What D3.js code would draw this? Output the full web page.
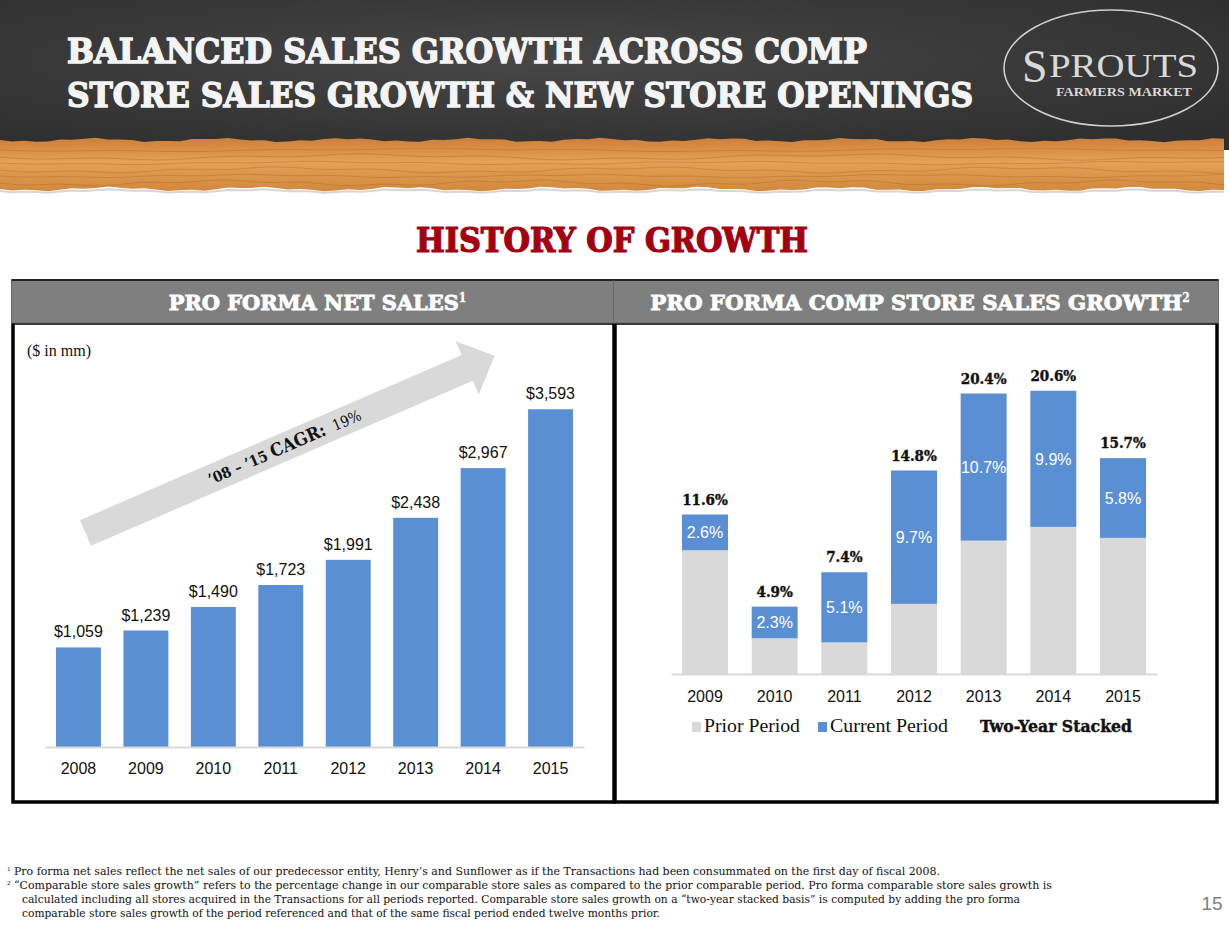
<!DOCTYPE html>
<html>
<head>
<meta charset="utf-8">
<script src="https://cdn.jsdelivr.net/npm/d3@7"></script>
<style>
  html, body { margin: 0; padding: 0; background: #fff; }
  svg { display: block; }
</style>
</head>
<body>
<div id="chart"></div>
<script>
// Net sales, $ in mm
const salesYears = ["2008", "2009", "2010", "2011", "2012", "2013", "2014", "2015"];
const netSales = [1059, 1239, 1490, 1723, 1991, 2438, 2967, 3593];

// Comp store sales growth, %
const compYears = ["2009", "2010", "2011", "2012", "2013", "2014", "2015"];
const priorPeriod = [9.0, 2.6, 2.3, 5.1, 9.7, 10.7, 9.9];
const currentPeriod = [2.6, 2.3, 5.1, 9.7, 10.7, 9.9, 5.8];
const twoYearStacked = [11.6, 4.9, 7.4, 14.8, 20.4, 20.6, 15.7];

const legendItems = ["Prior Period", "Current Period"];

const footnotes = [
  "Pro forma net sales reflect the net sales of our predecessor entity, Henry\u2019s and Sunflower as if the Transactions had been consummated on the first day of fiscal 2008.",
  "\u201cComparable store sales growth\u201d refers to the percentage change in our comparable store sales as compared to the prior comparable period. Pro forma comparable store sales growth is",
  "calculated including all stores acquired in the  Transactions for all periods reported. Comparable store sales growth on a \u201ctwo-year stacked basis\u201d is computed by adding the pro forma",
  "comparable store sales growth of the period referenced and that of the same fiscal period ended twelve months prior."
];

const W = 1229, H = 927;
const BLUE = "#5b8fd4", GREY = "#d9d9d9";
const SLAB = "'DejaVu Serif Condensed', 'DejaVu Serif', serif";
const SANS = "'Liberation Sans', Arial, sans-serif";
const SERIF = "'Liberation Serif', 'DejaVu Serif', serif";

const svg = d3.select("#chart").append("svg")
  .attr("width", W).attr("height", H)
  .attr("viewBox", `0 0 ${W} ${H}`);

const defs = svg.append("defs");

// chalkboard header
const board = defs.append("radialGradient").attr("id", "board")
  .attr("cx", "45%").attr("cy", "40%").attr("r", "70%");
board.append("stop").attr("offset", "0%").attr("stop-color", "#474747");
board.append("stop").attr("offset", "100%").attr("stop-color", "#2e2e2e");

const wood = defs.append("linearGradient").attr("id", "wood")
  .attr("x1", 0).attr("y1", 0).attr("x2", 0).attr("y2", 1);
wood.append("stop").attr("offset", "0%").attr("stop-color", "#cd7f38");
wood.append("stop").attr("offset", "45%").attr("stop-color", "#e5a158");
wood.append("stop").attr("offset", "100%").attr("stop-color", "#d2883c");

svg.append("rect").attr("x", 0).attr("y", 0).attr("width", W).attr("height", 150)
  .attr("fill", "url(#board)");

// ragged wood strip
const edge = (y0, amp, k) => d3.range(0, W + 1, 12).map(x => [x, y0 + amp * Math.sin(x * k) + amp * 0.5 * Math.sin(x * k * 3.7)]);
const topEdge = edge(140, 1.5, 0.05);
const botEdge = edge(189, 1.6, 0.043).reverse();
svg.append("path")
  .attr("d", d3.line()(topEdge.concat(botEdge)) + "Z")
  .attr("fill", "url(#wood)");
svg.append("path")
  .attr("d", d3.line()(edge(191, 1.2, 0.043)))
  .attr("fill", "none").attr("stroke", "#bbb").attr("stroke-width", 2).attr("opacity", 0.6);
[150, 157, 163, 170, 176, 183].forEach((y, i) => {
  svg.append("path")
    .attr("d", d3.line().curve(d3.curveBasis)(edge(y, 1.2 + i % 2, 0.011 + i * 0.002)))
    .attr("fill", "none").attr("stroke", "#9c5a22")
    .attr("stroke-width", 0.8).attr("opacity", 0.4);
});

// title
const titleLines = [
  { text: "BALANCED SALES GROWTH ACROSS COMP", y: 63, w: 800 },
  { text: "STORE SALES GROWTH & NEW STORE OPENINGS", y: 107, w: 906 }
];
svg.selectAll(".title").data(titleLines).join("text")
  .attr("class", "title")
  .attr("x", 67).attr("y", d => d.y)
  .attr("textLength", d => d.w).attr("lengthAdjust", "spacingAndGlyphs")
  .attr("font-family", SLAB).attr("font-weight", "bold").attr("font-size", 33)
  .attr("fill", "#f4f4f4").attr("stroke", "#f4f4f4").attr("stroke-width", 1.3)
  .text(d => d.text);

// logo
const logo = svg.append("g").attr("fill", "#d9d9d9");
logo.append("ellipse").attr("cx", 1111).attr("cy", 68).attr("rx", 107).attr("ry", 58)
  .attr("fill", "none").attr("stroke", "#cfcfcf").attr("stroke-width", 1.6);
logo.append("text").attr("x", 1022).attr("y", 82)
  .attr("font-family", SERIF).attr("font-size", 46).text("S");
logo.append("text").attr("x", 1049).attr("y", 77)
  .attr("font-family", SERIF).attr("font-size", 33)
  .attr("textLength", 149).attr("lengthAdjust", "spacingAndGlyphs").text("PROUTS");
logo.append("text").attr("x", 1124).attr("y", 96).attr("text-anchor", "middle")
  .attr("font-family", SERIF).attr("font-weight", "bold").attr("font-size", 12)
  .attr("textLength", 136).attr("lengthAdjust", "spacingAndGlyphs")
  .text("FARMERS MARKET");

// section title
svg.append("text").attr("x", 612).attr("y", 252).attr("text-anchor", "middle")
  .attr("font-family", SLAB).attr("font-weight", "bold").attr("font-size", 33)
  .attr("textLength", 392).attr("lengthAdjust", "spacingAndGlyphs")
  .attr("fill", "#a30012").attr("stroke", "#a30012").attr("stroke-width", 1.2)
  .text("HISTORY OF GROWTH");

// panels
const panels = [
  { x0: 13, x1: 614, title: "PRO FORMA NET SALES", sup: "1", tw: 290 },
  { x0: 615, x1: 1217, title: "PRO FORMA COMP STORE SALES GROWTH", sup: "2", tw: 532 }
];
panels.forEach(p => {
  svg.append("rect").attr("x", p.x0).attr("y", 323).attr("width", p.x1 - p.x0).attr("height", 479)
    .attr("fill", "#fff").attr("stroke", "#000").attr("stroke-width", 3.5);
  svg.append("rect").attr("x", p.x0 - 1.5).attr("y", 280).attr("width", p.x1 - p.x0 + 3).attr("height", 43)
    .attr("fill", "#7f7f7f").attr("stroke", "#6a6a6a").attr("stroke-width", 1);
  svg.append("line").attr("x1", p.x0 - 1.5).attr("x2", p.x1 + 1.5).attr("y1", 280).attr("y2", 280)
    .attr("stroke", "#222").attr("stroke-width", 2);
  const t = svg.append("text").attr("x", (p.x0 + p.x1) / 2 + 4).attr("y", 310).attr("text-anchor", "middle")
    .attr("font-family", SLAB).attr("font-weight", "bold").attr("fill", "#fff")
    .attr("stroke", "#fff").attr("stroke-width", 0.8);
  t.append("tspan").attr("font-size", 20).attr("textLength", p.tw).attr("lengthAdjust", "spacingAndGlyphs").text(p.title);
  t.append("tspan").attr("font-size", 12).attr("stroke-width", 0.3).attr("dy", -8).text(p.sup);
});

// ---------- left chart: net sales ----------
const xs = d3.scaleBand().domain(salesYears).range([45, 584]).paddingInner(0.334).paddingOuter(0.163);
const ys = d3.scaleLinear().domain([0, 4000]).range([747, 371]);

svg.append("text").attr("x", 27).attr("y", 356)
  .attr("font-family", SERIF).attr("font-size", 16).attr("fill", "#111")
  .text("($ in mm)");

// CAGR arrow
const arrowLen = 446;
const arrow = svg.append("g").attr("transform", "translate(85.5,533) rotate(-23.4)");
arrow.append("path")
  .attr("d", `M0,-14 L${arrowLen - 30},-14 L${arrowLen - 30},-29 L${arrowLen},0 L${arrowLen - 30},29 L${arrowLen - 30},14 L0,14 Z`)
  .attr("fill", GREY);
const cagr = arrow.append("text").attr("x", 217).attr("y", 0).attr("dy", "0.35em")
  .attr("text-anchor", "middle").attr("font-family", SLAB).attr("fill", "#111");
cagr.append("tspan").attr("font-weight", "bold").attr("font-size", 15).text("\u201908 \u2013 \u201915 ");
cagr.append("tspan").attr("font-weight", "bold").attr("font-size", 18).text("CAGR:");
cagr.append("tspan").attr("font-size", 15).text("\u00a0 19%");

const salesData = salesYears.map((yr, i) => ({ yr, v: netSales[i] }));
svg.append("g").selectAll("rect").data(salesData).join("rect")
  .attr("x", d => xs(d.yr)).attr("width", xs.bandwidth())
  .attr("y", d => ys(d.v)).attr("height", d => ys(0) - ys(d.v))
  .attr("fill", BLUE);
svg.append("g").selectAll("text").data(salesData).join("text")
  .attr("x", d => xs(d.yr) + xs.bandwidth() / 2).attr("y", d => ys(d.v) - 10)
  .attr("text-anchor", "middle").attr("font-family", SANS).attr("font-size", 16).attr("fill", "#111")
  .text(d => "$" + d3.format(",")(d.v));

const axL = svg.append("g").attr("transform", `translate(0,${ys(0)})`)
  .call(d3.axisBottom(xs).tickSize(0).tickPadding(15.5));
axL.select(".domain").attr("stroke", GREY).attr("stroke-width", 2);
axL.selectAll("text").attr("font-family", SANS).attr("font-size", 16).attr("fill", "#111");

// ---------- right chart: comp store sales growth ----------
const xc = d3.scaleBand().domain(compYears).range([671, 1157]).paddingInner(0.34).paddingOuter(0.158);
const yc = d3.scaleLinear().domain([0, 22]).range([674, 674 - 13.75 * 22]);

const compData = compYears.map((yr, i) => ({ yr, prior: priorPeriod[i], cur: currentPeriod[i], total: twoYearStacked[i] }));
const stack = d3.stack().keys(["prior", "cur"])(compData);
const colors = { prior: GREY, cur: BLUE };

svg.append("g").selectAll("g").data(stack).join("g")
  .attr("fill", s => colors[s.key])
  .selectAll("rect").data(s => s).join("rect")
  .attr("x", d => xc(d.data.yr)).attr("width", xc.bandwidth())
  .attr("y", d => yc(d[1])).attr("height", d => yc(d[0]) - yc(d[1]));

// current-period labels inside blue segments
svg.append("g").selectAll("text").data(stack[1]).join("text")
  .attr("x", d => xc(d.data.yr) + xc.bandwidth() / 2)
  .attr("y", d => (yc(d[0]) + yc(d[1])) / 2).attr("dy", "0.36em")
  .attr("text-anchor", "middle").attr("font-family", SANS).attr("font-size", 16).attr("fill", "#fff")
  .text(d => d.data.cur.toFixed(1) + "%");

// two-year stacked totals
svg.append("g").selectAll("text").data(compData).join("text")
  .attr("x", d => xc(d.yr) + xc.bandwidth() / 2).attr("y", d => yc(d.total) - 10)
  .attr("text-anchor", "middle").attr("font-family", SLAB).attr("font-weight", "bold")
  .attr("font-size", 15).attr("fill", "#111").attr("stroke", "#111").attr("stroke-width", 0.4)
  .text(d => d.total.toFixed(1) + "%");

const axR = svg.append("g").attr("transform", `translate(0,${yc(0)})`)
  .call(d3.axisBottom(xc).tickSize(0).tickPadding(16.5));
axR.select(".domain").attr("stroke", GREY).attr("stroke-width", 2);
axR.selectAll("text").attr("font-family", SANS).attr("font-size", 16).attr("fill", "#111");

// legend
const legendX = [692, 818];
const legendW = [96, 118];
const legend = svg.append("g").selectAll("g").data(legendItems).join("g")
  .attr("transform", (d, i) => `translate(${legendX[i]},722)`);
legend.append("rect").attr("width", 9).attr("height", 10)
  .attr("fill", (d, i) => i === 0 ? GREY : BLUE);
legend.append("text").attr("x", 12).attr("y", 10)
  .attr("font-family", SERIF).attr("font-size", 18).attr("fill", "#111")
  .attr("textLength", (d, i) => legendW[i]).attr("lengthAdjust", "spacingAndGlyphs")
  .text(d => d);
svg.append("text").attr("x", 980).attr("y", 732)
  .attr("font-family", SLAB).attr("font-weight", "bold").attr("font-size", 16)
  .attr("textLength", 152).attr("lengthAdjust", "spacingAndGlyphs")
  .attr("fill", "#111").attr("stroke", "#111").attr("stroke-width", 0.4)
  .text("Two-Year Stacked");

// footnotes
const fnLayout = [
  { x: 14, y: 875, w: 926, sup: "1" },
  { x: 14, y: 889, w: 1038, sup: "2" },
  { x: 22, y: 903, w: 998 },
  { x: 22, y: 917, w: 638 }
];
fnLayout.forEach((f, i) => {
  if (f.sup) {
    svg.append("text").attr("x", 7).attr("y", f.y - 4)
      .attr("font-family", SERIF).attr("font-size", 7).attr("fill", "#111").text(f.sup);
  }
  svg.append("text").attr("x", f.x).attr("y", f.y)
    .attr("font-family", SLAB).attr("font-size", 10.5).attr("fill", "#111")
    .attr("textLength", f.w).attr("lengthAdjust", "spacingAndGlyphs")
    .text(footnotes[i]);
});

// page number
svg.append("text").attr("x", 1212).attr("y", 910).attr("text-anchor", "middle")
  .attr("font-family", "'Liberation Sans Narrow', 'Liberation Sans', sans-serif")
  .attr("font-size", 19).attr("fill", "#808080").text("15");
</script>
</body>
</html>
